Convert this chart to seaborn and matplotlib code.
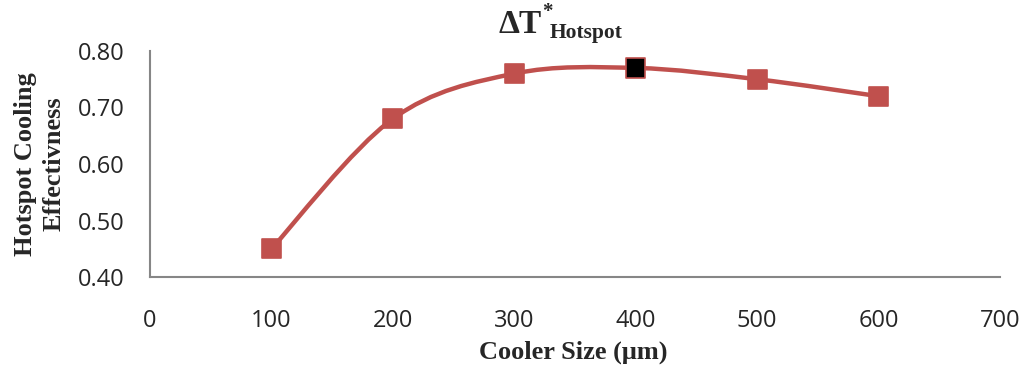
import numpy as np
import pandas as pd
import matplotlib
matplotlib.use("Agg")
import matplotlib.pyplot as plt
from matplotlib.path import Path
from matplotlib.patches import PathPatch
import seaborn as sns

# Data
cooler_size = [100, 200, 300, 400, 500, 600]
effectiveness = [0.45, 0.68, 0.76, 0.77, 0.75, 0.72]
optimum_size = 400
x_ticks = [0, 100, 200, 300, 400, 500, 600, 700]
y_ticks = [0.40, 0.50, 0.60, 0.70, 0.80]

RED = "#C0504D"
GRAY = "#868686"
SERIF = "Liberation Serif"

sns.set_style("white")

df = pd.DataFrame({"size": cooler_size, "eff": effectiveness})
df["kind"] = np.where(df["size"] == optimum_size, "opt", "std")

W, H = 1021, 370
fig = plt.figure(figsize=(W / 100, H / 100), dpi=100)
ax = fig.add_axes([150 / W, 1 - 277 / H, 850 / W, 226 / H])

# Smoothed connecting line (cubic Bezier segments through the data points)
pts = np.column_stack([cooler_size, effectiveness]).astype(float)
n = len(pts)
verts = [tuple(pts[0])]
codes = [Path.MOVETO]
for i in range(n - 1):
    p0 = pts[i - 1] if i > 0 else pts[i]
    p1 = pts[i]
    p2 = pts[i + 1]
    p3 = pts[i + 2] if i + 2 < n else pts[i + 1]
    c1 = p1 + (p2 - p0) / 6.0
    c2 = p2 - (p3 - p1) / 6.0
    verts += [tuple(c1), tuple(c2), tuple(p2)]
    codes += [Path.CURVE4] * 3
ax.add_patch(PathPatch(Path(verts, codes), facecolor="none", edgecolor=RED,
                       lw=3.2, capstyle="round", joinstyle="round", zorder=2))

sns.scatterplot(data=df, x="size", y="eff", hue="kind",
                palette={"std": RED, "opt": "black"}, marker="s", s=190,
                edgecolor=RED, linewidth=1.2, legend=False, zorder=3, ax=ax)

ax.set_xlim(0, 700)
ax.set_ylim(0.40, 0.80)
ax.set_xticks(x_ticks)
ax.set_yticks(y_ticks)
ax.set_xticklabels([str(v) for v in x_ticks], fontfamily="Open Sans", fontsize=17)
ax.set_yticklabels([f"{v:.2f}" for v in y_ticks], fontfamily="Open Sans", fontsize=17)
ax.tick_params(axis="x", length=0, pad=23)
ax.tick_params(axis="y", length=0, pad=18)

for side in ["top", "right"]:
    ax.spines[side].set_visible(False)
for side in ["left", "bottom"]:
    ax.spines[side].set_color(GRAY)
    ax.spines[side].set_linewidth(1.5)

ax.set_xlabel("")
ax.set_ylabel("")

# Axis titles
fig.text(573 / W, 1 - 352 / H, "Cooler Size (\u03bcm)", fontfamily=SERIF,
         fontweight="bold", fontsize=19, ha="center", va="center")
fig.text(40 / W, 1 - 164 / H, "Hotspot Cooling\nEffectivness",
         fontfamily=SERIF, fontweight="bold", fontsize=19,
         rotation=90, ha="center", va="center", linespacing=1.3,
         multialignment="center")

# Chart title: ΔT with superscript asterisk and subscript "Hotspot"
fig.text(498 / W, 1 - 33 / H, "\u0394T", fontfamily=SERIF, fontweight="bold",
         fontsize=24, ha="left", va="baseline")
fig.text(542 / W, 1 - 17 / H, "*", fontfamily=SERIF, fontweight="bold",
         fontsize=15, ha="left", va="baseline")
fig.text(550 / W, 1 - 38 / H, "Hotspot", fontfamily=SERIF, fontweight="bold",
         fontsize=15.5, ha="left", va="baseline")

fig.savefig("out.png", dpi=100, facecolor="white")
